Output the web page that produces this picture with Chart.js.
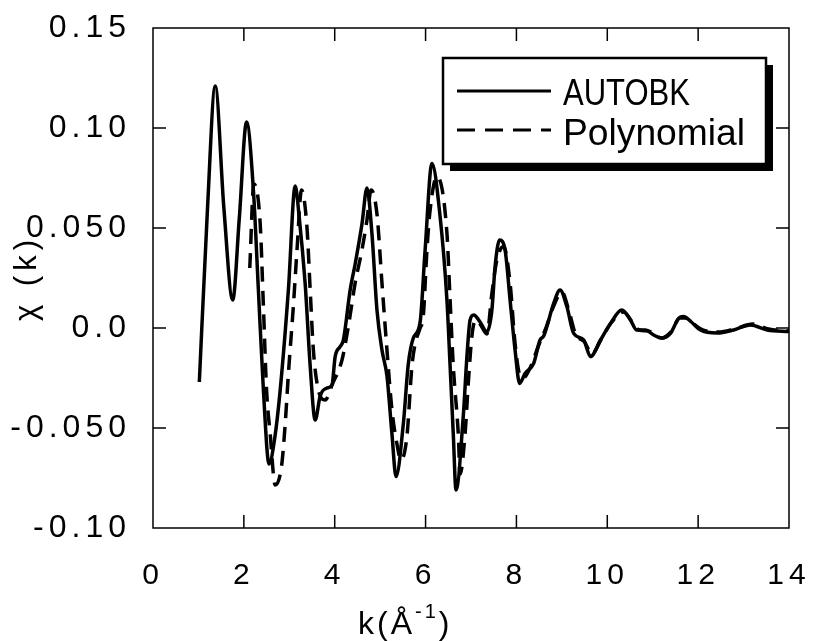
<!DOCTYPE html>
<html><head><meta charset="utf-8">
<script src="https://cdn.jsdelivr.net/npm/chart.js@4/dist/chart.umd.min.js"></script>
<style>html,body{margin:0;padding:0;background:#fff;overflow:hidden}</style>
</head><body>
<canvas id="c" width="814" height="641"></canvas>
<script>
// ---- data ----
const kAutobk = [1.02,1.2,1.37,1.56,1.755,1.9,2.06,2.21,2.32,2.43,2.555,2.68,2.8,2.98,3.13,3.22,3.35,3.46,3.57,3.68,3.83,3.94,4.01,4.12,4.19,4.34,4.45,4.6,4.71,4.82,4.93,5.04,5.15,5.26,5.35,5.51,5.62,5.73,5.88,5.99,6.14,6.32,6.47,6.54,6.61,6.67,6.83,6.91,6.98,7.06,7.2,7.35,7.46,7.53,7.63,7.75,7.86,7.97,8.07,8.19,8.38,8.52,8.6,8.82,8.96,9.11,9.26,9.48,9.63,9.85,10.07,10.32,10.51,10.65,10.84,11.02,11.2,11.39,11.57,11.68,11.85,12.05,12.42,12.78,13.15,13.52,14.0];
const chiAutobk = [-0.027,0.06,0.121,0.06,0.014,0.055,0.103,0.069,0.019,-0.031,-0.068,-0.055,-0.031,0.019,0.071,0.055,0.022,-0.019,-0.046,-0.034,-0.030,-0.0285,-0.0143,-0.0093,-0.006,0.019,0.032,0.052,0.070,0.047,0.009,-0.011,-0.024,-0.053,-0.0743,-0.048,-0.018,-0.005,0.003,0.039,0.0823,0.0557,0.014,-0.019,-0.053,-0.081,-0.044,-0.0143,0.004,0.0065,0.003,-0.002,0.009,0.0307,0.044,0.039,0.014,-0.011,-0.0277,-0.0227,-0.0177,-0.006,-0.004,0.0123,0.019,0.0107,-0.0027,-0.006,-0.0143,-0.006,0.0023,0.009,0.004,-0.001,-0.001,-0.0035,-0.005,-0.0027,0.0048,0.0057,0.003,-0.001,-0.0025,-0.001,0.0015,-0.001,-0.0018];
const kPoly = [2.13,2.22,2.36,2.43,2.5,2.58,2.69,2.83,2.91,2.98,3.09,3.17,3.27,3.39,3.46,3.53,3.64,3.79,3.95,4.16,4.3,4.45,4.6,4.71,4.8,4.93,5.04,5.15,5.26,5.37,5.46,5.59,5.7,5.77,5.88,5.95,6.03,6.1,6.25,6.47,6.54,6.61,6.72,6.76,6.87,6.94,7.02,7.1,7.2,7.35,7.46,7.57,7.72,7.86,7.97,8.08,8.15,8.3,8.5,8.65,8.82,9.0,9.15,9.3,9.5,9.66,9.88,10.1,10.36,10.55,10.7,10.9,11.2,11.4,11.6,11.72,11.9,12.1,12.45,12.8,13.2,13.55,14.0];
const chiPoly = [0.03,0.072,0.052,0.011,-0.031,-0.053,-0.0785,-0.069,-0.048,-0.023,0.011,0.039,0.069,0.05,0.019,-0.011,-0.031,-0.036,-0.028,-0.016,0.0007,0.0225,0.039,0.054,0.069,0.057,0.0225,-0.011,-0.041,-0.058,-0.066,-0.054,-0.019,-0.008,0.0,0.006,0.039,0.059,0.0757,0.0475,0.014,-0.019,-0.053,-0.073,-0.0527,-0.0277,-0.004,0.004,0.002,-0.003,0.0173,0.034,0.0407,0.0225,-0.0077,-0.024,-0.025,-0.02,-0.008,0.0,0.011,0.018,0.009,-0.003,-0.007,-0.013,-0.005,0.003,0.008,0.003,-0.001,-0.0015,-0.005,-0.002,0.005,0.005,0.002,-0.001,-0.002,-0.0005,0.002,-0.0005,-0.0015];
const seriesNames = ['AUTOBK','Polynomial'];
const xTicks = [0,2,4,6,8,10,12,14];
const yTicks = [-0.10,-0.05,0,0.05,0.10,0.15];
const yTickLabels = ['-0.10','-0.050','0.0','0.050','0.10','0.15'];
const yTitle = 'χ (k)';
const xTitleMain = 'k(Å';
const xTitleSup = '-1';
const xTitleEnd = ')';

const FONT = '"Liberation Sans", Arial, Helvetica, sans-serif';

const spacing = {
  id: 'spacing',
  beforeLayout(chart){ chart.ctx.letterSpacing = '5px'; },
  beforeDraw(chart){ chart.ctx.letterSpacing = '5px'; }
};

const frameTicks = {
  id: 'frameTicks',
  afterDatasetsDraw(chart){
    const {ctx, chartArea:a, scales:{x, y}} = chart;
    ctx.save();
    ctx.strokeStyle = '#000';
    ctx.lineWidth = 1.5;
    ctx.strokeRect(a.left, a.top, a.right - a.left, a.bottom - a.top);
    const L = 13;
    ctx.beginPath();
    xTicks.forEach(v => {
      if (v <= x.min || v >= x.max) return;
      const p = x.getPixelForValue(v);
      ctx.moveTo(p, a.bottom); ctx.lineTo(p, a.bottom - L);
      ctx.moveTo(p, a.top); ctx.lineTo(p, a.top + L);
    });
    yTicks.forEach(v => {
      if (v <= y.min + 1e-9 || v >= y.max - 1e-9) return;
      const p = y.getPixelForValue(v);
      ctx.moveTo(a.left, p); ctx.lineTo(a.left + L, p);
      ctx.moveTo(a.right, p); ctx.lineTo(a.right - L, p);
    });
    ctx.stroke();
    ctx.restore();
  }
};

const xTitlePlugin = {
  id: 'xTitlePlugin',
  afterDraw(chart){
    const ctx = chart.ctx;
    ctx.save();
    ctx.fillStyle = '#000';
    ctx.textBaseline = 'alphabetic';
    ctx.textAlign = 'left';
    ctx.letterSpacing = '3px';
    let x = 358, base = 634;
    ctx.font = '32px ' + FONT;
    ctx.fillText(xTitleMain, x, base);
    x += ctx.measureText(xTitleMain).width;
    ctx.font = '20px ' + FONT;
    ctx.fillText(xTitleSup, x, base - 16);
    x += ctx.measureText(xTitleSup).width;
    ctx.font = '32px ' + FONT;
    ctx.fillText(xTitleEnd, x, base);
    ctx.restore();
  }
};

const legendBox = {
  id: 'legendBox',
  afterDraw(chart){
    const ctx = chart.ctx;
    const ds = chart.data.datasets;
    ctx.save();
    ctx.letterSpacing = '0px';
    const bx = 443, by = 58, bw = 323, bh = 106, sh = 7;
    ctx.fillStyle = '#000';
    ctx.fillRect(bx + sh, by + sh, bw, bh);
    ctx.fillStyle = '#fff';
    ctx.fillRect(bx, by, bw, bh);
    ctx.strokeStyle = '#000';
    ctx.lineWidth = 2.5;
    ctx.strokeRect(bx, by, bw, bh);
    const rows = [
      {ly: 91, base: 105, tw: 127},
      {ly: 130, base: 145, tw: 182}
    ];
    rows.forEach((r, i) => {
      ctx.beginPath();
      ctx.lineWidth = 3;
      ctx.setLineDash(i === 1 ? [18, 10] : []);
      ctx.moveTo(457, r.ly); ctx.lineTo(551, r.ly);
      ctx.stroke();
      ctx.setLineDash([]);
      ctx.font = '37px ' + FONT;
      ctx.fillStyle = '#000';
      ctx.textAlign = 'left';
      ctx.textBaseline = 'alphabetic';
      const w = ctx.measureText(ds[i].label).width;
      ctx.save();
      ctx.translate(563, r.base);
      ctx.scale(r.tw / w, 1);
      ctx.fillText(ds[i].label, 0, 0);
      ctx.restore();
    });
    ctx.restore();
  }
};

new Chart(document.getElementById('c'), {
  type: 'line',
  data: {
    datasets: [
      {
        label: seriesNames[0],
        data: kAutobk.map((k, i) => ({x: k, y: chiAutobk[i]})),
        borderColor: '#000', borderWidth: 3.5, pointRadius: 0,
        cubicInterpolationMode: 'monotone', fill: false
      },
      {
        label: seriesNames[1],
        data: kPoly.map((k, i) => ({x: k, y: chiPoly[i]})),
        borderColor: '#000', borderWidth: 3.5, pointRadius: 0,
        borderDash: [15, 9],
        cubicInterpolationMode: 'monotone', fill: false
      }
    ]
  },
  options: {
    responsive: false,
    animation: false,
    devicePixelRatio: 1,
    layout: {padding: {left: 0, right: 25, top: 28, bottom: 0}},
    plugins: {legend: {display: false}, tooltip: {enabled: false}},
    scales: {
      x: {
        type: 'linear', min: 0, max: 14,
        afterBuildTicks: s => { s.ticks = xTicks.map(v => ({value: v})); },
        afterFit: s => { s.height = 113; s.paddingLeft = 0; s.paddingRight = 0; },
        grid: {display: false, drawTicks: false},
        border: {display: false},
        ticks: {color: '#000', font: {size: 30, family: FONT}, padding: 30, maxRotation: 0, autoSkip: false,
                callback: v => String(v)}
      },
      y: {
        type: 'linear', min: -0.10, max: 0.15,
        afterBuildTicks: s => { s.ticks = yTicks.map(v => ({value: v})); },
        afterFit: s => { s.width = 153; s.paddingTop = 0; s.paddingBottom = 0; },
        grid: {display: false, drawTicks: false},
        border: {display: false},
        ticks: {color: '#000', font: {size: 32, family: FONT}, padding: 22, autoSkip: false,
                callback: v => { const i = yTicks.findIndex(t => Math.abs(t - v) < 1e-9); return i >= 0 ? yTickLabels[i] : ''; }},
        title: {display: true, text: yTitle, color: '#000', font: {size: 31, family: FONT}, padding: {top: 9, bottom: 0}}
      }
    }
  },
  plugins: [spacing, frameTicks, xTitlePlugin, legendBox]
});
</script>
</body></html>
